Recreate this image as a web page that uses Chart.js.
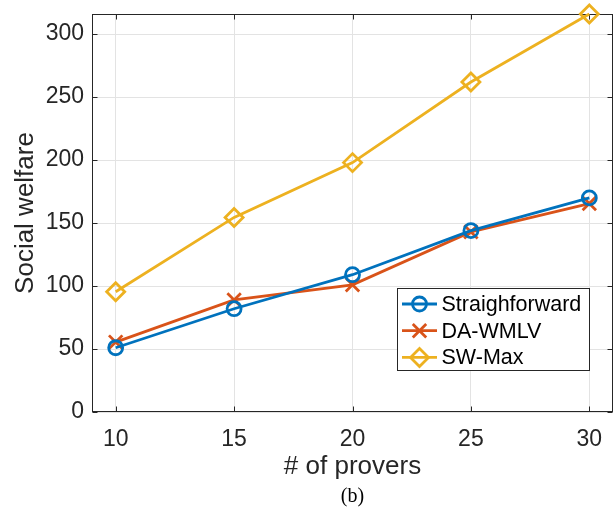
<!DOCTYPE html>
<html>
<head>
<meta charset="utf-8">
<script src="https://cdn.jsdelivr.net/npm/chart.js@4/dist/chart.umd.min.js"></script>
<style>
  html, body { margin: 0; padding: 0; background: #fff; }
  #wrap { position: relative; width: 615px; height: 517px; }
</style>
</head>
<body>
<div id="wrap"><canvas id="c" width="615" height="517"></canvas></div>
<script>
// Number of provers on the x axis
const provers = [10, 15, 20, 25, 30];
// Social welfare per method
const straighforward = [51, 82, 109, 144, 170];
const daWmlv = [55.5, 89, 101, 143, 165.5];
const swMax = [95.5, 154.5, 198, 262, 316];
// Axis tick labels
const xTicks = [10, 15, 20, 25, 30];
const yTicks = [0, 50, 100, 150, 200, 250, 300];
const seriesNames = ['Straighforward', 'DA-WMLV', 'SW-Max'];

const colors = ['#0072BD', '#D95319', '#EDB120'];
const axisColor = '#262626';

function pts(vals) { return provers.map((x, i) => ({ x: x, y: vals[i] })); }

// Axes box with inward tick marks on all four sides
const boxPlugin = {
  id: 'box',
  beforeDatasetsDraw(chart) {
    const { ctx, chartArea: a, scales } = chart;
    ctx.save();
    ctx.strokeStyle = axisColor;
    ctx.lineWidth = 1;
    const L = Math.round(a.left) + 0.5, R = Math.round(a.right) - 0.5;
    const T = Math.round(a.top) + 0.5, B = Math.round(a.bottom) - 0.5;
    ctx.strokeRect(L, T, R - L, B - T);
    const tl = 5;
    ctx.beginPath();
    xTicks.forEach(v => {
      const x = Math.round(scales.x.getPixelForValue(v)) + 0.5;
      ctx.moveTo(x, B); ctx.lineTo(x, B - tl);
      ctx.moveTo(x, T); ctx.lineTo(x, T + tl);
    });
    yTicks.forEach(v => {
      const y = Math.round(scales.y.getPixelForValue(v)) + 0.5;
      ctx.moveTo(L, y); ctx.lineTo(L + tl, y);
      ctx.moveTo(R, y); ctx.lineTo(R - tl, y);
    });
    ctx.stroke();
    ctx.restore();
  }
};

function drawMarker(ctx, style, x, y, r) {
  ctx.beginPath();
  if (style === 'circle') {
    ctx.arc(x, y, r, 0, Math.PI * 2);
  } else if (style === 'crossRot') {
    const d = r * Math.SQRT1_2;
    ctx.moveTo(x - d, y - d); ctx.lineTo(x + d, y + d);
    ctx.moveTo(x + d, y - d); ctx.lineTo(x - d, y + d);
  } else {
    ctx.moveTo(x - r, y); ctx.lineTo(x, y - r); ctx.lineTo(x + r, y); ctx.lineTo(x, y + r);
    ctx.closePath();
  }
  ctx.stroke();
}

// Boxed legend inside the plot area, plus the panel caption
const legendPlugin = {
  id: 'boxLegend',
  afterDraw(chart) {
    const { ctx } = chart;
    ctx.save();
    const bx = 397.5, by = 288.5, bw = 192, bh = 82;
    ctx.fillStyle = '#fff';
    ctx.fillRect(bx, by, bw, bh);
    ctx.strokeStyle = axisColor;
    ctx.lineWidth = 1;
    ctx.strokeRect(bx, by, bw, bh);
    chart.data.datasets.forEach((ds, i) => {
      const cy = 304 + i * 26.7;
      ctx.strokeStyle = ds.borderColor;
      ctx.lineWidth = 2.8;
      ctx.beginPath();
      ctx.moveTo(402, cy); ctx.lineTo(437, cy);
      ctx.stroke();
      drawMarker(ctx, ds.pointStyle, 419.5, cy, ds.pointRadius);
      ctx.fillStyle = '#000';
      ctx.font = '21.5px "Liberation Sans", Arial, sans-serif';
      ctx.textAlign = 'left';
      ctx.textBaseline = 'middle';
      ctx.fillText(ds.label, 441.5, cy + 1);
    });
    ctx.fillStyle = '#000';
    ctx.font = '20px "Liberation Serif", "Times New Roman", serif';
    ctx.textAlign = 'center';
    ctx.textBaseline = 'middle';
    ctx.fillText('(b)', 352.5, 497);
    ctx.restore();
  }
};

const styles = ['circle', 'crossRot', 'rectRot'];
const radii = [7, 9.5, 9];
const values = [straighforward, daWmlv, swMax];

new Chart(document.getElementById('c'), {
  type: 'line',
  data: {
    datasets: values.map((v, i) => ({
      label: seriesNames[i],
      data: pts(v),
      borderColor: colors[i],
      backgroundColor: colors[i],
      borderWidth: 2.8,
      pointStyle: styles[i],
      pointRadius: radii[i],
      pointBorderWidth: 2.8,
      pointBackgroundColor: 'rgba(0,0,0,0)',
      pointBorderColor: colors[i],
      tension: 0,
      clip: false
    }))
  },
  options: {
    responsive: false,
    animation: false,
    layout: { autoPadding: false, padding: { top: 14, right: 2, bottom: 25, left: 0 } },
    plugins: { legend: { display: false }, tooltip: { enabled: false } },
    scales: {
      x: {
        type: 'linear',
        min: 9, max: 31,
        afterBuildTicks: s => { s.ticks = xTicks.map(v => ({ value: v })); },
        afterFit: s => { s.height = 80; s.paddingLeft = 0; s.paddingRight = 0; },
        grid: { color: '#e3e3e3', drawTicks: false },
        border: { display: false },
        ticks: {
          color: axisColor, padding: 14,
          font: { family: '"Liberation Sans", Arial, sans-serif', size: 23 }
        },
        title: {
          display: true, text: '# of provers', color: axisColor,
          font: { family: '"Liberation Sans", Arial, sans-serif', size: 26 },
          padding: { top: 0, bottom: 10 }
        }
      },
      y: {
        min: 0, max: 316,
        afterBuildTicks: s => { s.ticks = yTicks.map(v => ({ value: v })); },
        afterFit: s => { s.width = 92; s.paddingTop = 0; s.paddingBottom = 0; },
        grid: { color: '#e3e3e3', drawTicks: false },
        border: { display: false },
        ticks: {
          color: axisColor, padding: 8,
          font: { family: '"Liberation Sans", Arial, sans-serif', size: 23 }
        },
        title: {
          display: true, text: 'Social welfare', color: axisColor,
          font: { family: '"Liberation Sans", Arial, sans-serif', size: 26 },
          padding: { top: 10, bottom: 0 }
        }
      }
    }
  },
  plugins: [boxPlugin, legendPlugin]
});
</script>
</body>
</html>
